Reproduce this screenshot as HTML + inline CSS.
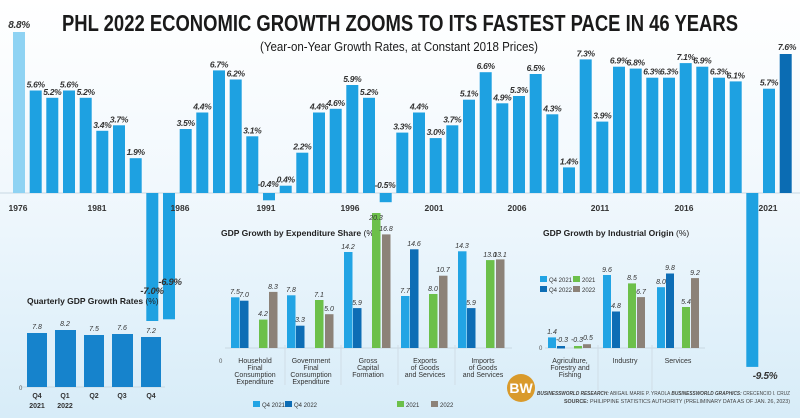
<!DOCTYPE html>
<html><head><meta charset="utf-8"><style>
html,body{margin:0;padding:0;width:800px;height:418px;overflow:hidden;}
svg{display:block;}
text{font-family:"Liberation Sans",sans-serif;}
.v{font-size:8.5px;font-weight:bold;font-style:italic;fill:#333;text-anchor:middle;letter-spacing:-0.3px;}
.yr{font-size:8.5px;font-weight:bold;fill:#333;text-anchor:middle;}
.s{font-size:7px;font-style:italic;fill:#333;text-anchor:middle;}
.c{font-size:7px;fill:#333;text-anchor:middle;}
.t{font-size:8.5px;font-weight:bold;fill:#222;}
</style></head><body>
<svg width="800" height="418" viewBox="0 0 800 418" xmlns="http://www.w3.org/2000/svg">
<defs>
<linearGradient id="bg" x1="0" y1="0" x2="0" y2="1"><stop offset="0" stop-color="#ffffff"/><stop offset="0.45" stop-color="#f1f8fd"/><stop offset="1" stop-color="#d7ecf8"/></linearGradient>
</defs>
<rect width="800" height="418" fill="url(#bg)"/>
<text x="400" y="31" text-anchor="middle" font-size="23" font-weight="bold" fill="#1a1a1a" textLength="676" lengthAdjust="spacingAndGlyphs">PHL 2022 ECONOMIC GROWTH ZOOMS TO ITS FASTEST PACE IN 46 YEARS</text>
<text x="399" y="51" text-anchor="middle" font-size="13" fill="#1a1a1a" textLength="278" lengthAdjust="spacingAndGlyphs">(Year-on-Year Growth Rates, at Constant 2018 Prices)</text>
<line x1="0" y1="193" x2="800" y2="193" stroke="#c8d8e2" stroke-width="1"/>
<g fill="#1ea1e1">
<rect x="13" y="32" width="12" height="161" fill="#8fd3f3"/>
<rect x="29.7" y="90.5" width="12" height="102.5"/>
<rect x="46.3" y="97.8" width="12" height="95.2"/>
<rect x="63" y="90.5" width="12" height="102.5"/>
<rect x="79.7" y="97.8" width="12" height="95.2"/>
<rect x="96.3" y="130.8" width="12" height="62.2"/>
<rect x="113" y="125.3" width="12" height="67.7"/>
<rect x="129.7" y="158.2" width="12" height="34.8"/>
<rect x="146.3" y="193" width="12" height="128"/>
<rect x="163" y="193" width="12" height="126.3"/>
<rect x="179.7" y="129" width="12" height="64"/>
<rect x="196.3" y="112.5" width="12" height="80.5"/>
<rect x="213" y="70.4" width="12" height="122.6"/>
<rect x="229.7" y="79.5" width="12" height="113.5"/>
<rect x="246.3" y="136.3" width="12" height="56.7"/>
<rect x="263" y="193" width="12" height="7.3"/>
<rect x="279.7" y="185.7" width="12" height="7.3"/>
<rect x="296.3" y="152.7" width="12" height="40.3"/>
<rect x="313" y="112.5" width="12" height="80.5"/>
<rect x="329.7" y="108.8" width="12" height="84.2"/>
<rect x="346.3" y="85" width="12" height="108"/>
<rect x="363" y="97.8" width="12" height="95.2"/>
<rect x="379.7" y="193" width="12" height="9.2"/>
<rect x="396.3" y="132.6" width="12" height="60.4"/>
<rect x="413" y="112.5" width="12" height="80.5"/>
<rect x="429.7" y="138.1" width="12" height="54.9"/>
<rect x="446.3" y="125.3" width="12" height="67.7"/>
<rect x="463" y="99.7" width="12" height="93.3"/>
<rect x="479.7" y="72.2" width="12" height="120.8"/>
<rect x="496.3" y="103.3" width="12" height="89.7"/>
<rect x="513" y="96" width="12" height="97"/>
<rect x="529.7" y="74" width="12" height="119"/>
<rect x="546.3" y="114.3" width="12" height="78.7"/>
<rect x="563" y="167.4" width="12" height="25.6"/>
<rect x="579.7" y="59.4" width="12" height="133.6"/>
<rect x="596.3" y="121.6" width="12" height="71.4"/>
<rect x="613" y="66.7" width="12" height="126.3"/>
<rect x="629.7" y="68.6" width="12" height="124.4"/>
<rect x="646.3" y="77.7" width="12" height="115.3"/>
<rect x="663" y="77.7" width="12" height="115.3"/>
<rect x="679.7" y="63.1" width="12" height="129.9"/>
<rect x="696.3" y="66.7" width="12" height="126.3"/>
<rect x="713" y="77.7" width="12" height="115.3"/>
<rect x="729.7" y="81.4" width="12" height="111.6"/>
<rect x="746.3" y="193" width="12" height="173.9"/>
<rect x="763" y="88.7" width="12" height="104.3"/>
<rect x="779.7" y="54" width="12" height="139" fill="#0b6cb3"/>
</g>
<g class="v">
<text x="19" y="28" font-size="10">8.8%</text>
<text x="35.7" y="87.5">5.6%</text><text x="52.3" y="94.8">5.2%</text><text x="69" y="87.5">5.6%</text><text x="85.7" y="94.8">5.2%</text>
<text x="102.3" y="127.8">3.4%</text><text x="119" y="122.3">3.7%</text><text x="135.7" y="155.2">1.9%</text>
<text x="152" y="294" font-size="9.5">-7.0%</text><text x="170" y="285" font-size="9.5">-6.9%</text>
<text x="185.7" y="126">3.5%</text><text x="202.3" y="109.5">4.4%</text><text x="219" y="67.4">6.7%</text><text x="235.7" y="76.5">6.2%</text><text x="252.3" y="133.3">3.1%</text>
<text x="268" y="187">-0.4%</text><text x="285.7" y="182.7">0.4%</text><text x="302.3" y="149.7">2.2%</text><text x="319" y="109.5">4.4%</text><text x="335.7" y="105.8">4.6%</text><text x="352.3" y="82">5.9%</text><text x="369" y="94.8">5.2%</text>
<text x="385" y="188">-0.5%</text><text x="402.3" y="129.6">3.3%</text><text x="419" y="109.5">4.4%</text><text x="435.7" y="135.1">3.0%</text><text x="452.3" y="122.3">3.7%</text><text x="469" y="96.7">5.1%</text><text x="485.7" y="69.2">6.6%</text><text x="502.3" y="100.3">4.9%</text><text x="519" y="93">5.3%</text><text x="535.7" y="71">6.5%</text><text x="552.3" y="111.3">4.3%</text><text x="569" y="164.4">1.4%</text>
<text x="585.7" y="56.4">7.3%</text><text x="602.3" y="118.6">3.9%</text><text x="619" y="63.7">6.9%</text><text x="635.7" y="65.6">6.8%</text><text x="652.3" y="74.7">6.3%</text><text x="669" y="74.7">6.3%</text><text x="685.7" y="60.1">7.1%</text><text x="702.3" y="63.7">6.9%</text><text x="719" y="74.7">6.3%</text><text x="735.7" y="78.4">6.1%</text>
<text x="765" y="379" font-size="10">-9.5%</text><text x="769" y="85.7">5.7%</text><text x="787" y="50">7.6%</text>
</g>
<g class="yr">
<text x="18" y="211">1976</text><text x="97" y="211">1981</text><text x="180" y="211">1986</text><text x="266" y="211">1991</text><text x="350" y="211">1996</text><text x="434" y="211">2001</text><text x="517" y="211">2006</text><text x="600" y="211">2011</text><text x="684" y="211">2016</text><text x="768" y="211">2021</text>
</g>

<text x="27" y="304" class="t">Quarterly GDP Growth Rates <tspan font-weight="normal">(%)</tspan></text>
<line x1="22" y1="387" x2="165" y2="387" stroke="#c8d8e2"/>
<text x="19" y="390" font-size="6" fill="#555">0</text>
<g fill="#1683cc">
<rect x="27" y="333" width="20" height="54"/><rect x="55" y="330" width="21" height="57"/><rect x="84" y="335" width="20" height="52"/><rect x="112" y="334" width="21" height="53"/><rect x="141" y="337" width="20" height="50"/>
</g>
<g class="s" font-size="8"><text x="37" y="329">7.8</text><text x="65" y="326">8.2</text><text x="94" y="331">7.5</text><text x="122" y="330">7.6</text><text x="151" y="333">7.2</text></g>
<g class="c" font-size="8" font-weight="bold"><text x="37" y="398">Q4</text><text x="37" y="408">2021</text><text x="65" y="398">Q1</text><text x="65" y="408">2022</text><text x="94" y="398">Q2</text><text x="122" y="398">Q3</text><text x="151" y="398">Q4</text></g>

<text x="221" y="236" class="t" font-size="8">GDP Growth by Expenditure Share <tspan font-weight="normal">(%)</tspan></text>
<line x1="225" y1="348" x2="512" y2="348" stroke="#c8d8e2"/>
<g stroke="#d0dde6"><line x1="285" y1="345" x2="285" y2="385"/><line x1="341" y1="345" x2="341" y2="385"/><line x1="398" y1="345" x2="398" y2="385"/><line x1="455" y1="345" x2="455" y2="385"/></g>
<text x="219" y="363" font-size="6" fill="#555">0</text>
<g>
<rect x="231" y="297.3" width="8.5" height="50.7" fill="#22a4e4"/><rect x="240" y="300.7" width="8.5" height="47.3" fill="#0d6db5"/><rect x="259" y="319.6" width="8.5" height="28.4" fill="#6cc04a"/><rect x="269" y="291.9" width="8.5" height="56.1" fill="#8c8278"/>
<rect x="287" y="295.3" width="8.5" height="52.7" fill="#22a4e4"/><rect x="296" y="325.7" width="8.5" height="22.3" fill="#0d6db5"/><rect x="315" y="300" width="8.5" height="48" fill="#6cc04a"/><rect x="325" y="314.2" width="8.5" height="33.8" fill="#8c8278"/>
<rect x="344" y="252" width="8.5" height="96" fill="#22a4e4"/><rect x="353" y="308.1" width="8.5" height="39.9" fill="#0d6db5"/><rect x="372" y="213" width="8.5" height="135" fill="#6cc04a"/><rect x="382" y="234.4" width="8.5" height="113.6" fill="#8c8278"/>
<rect x="401" y="296" width="8.5" height="52" fill="#22a4e4"/><rect x="410" y="249.3" width="8.5" height="98.7" fill="#0d6db5"/><rect x="429" y="294" width="8.5" height="54" fill="#6cc04a"/><rect x="439" y="275.7" width="8.5" height="72.3" fill="#8c8278"/>
<rect x="458" y="251.3" width="8.5" height="96.7" fill="#22a4e4"/><rect x="467" y="308.1" width="8.5" height="39.9" fill="#0d6db5"/><rect x="486" y="260.1" width="8.5" height="87.9" fill="#6cc04a"/><rect x="496" y="259.4" width="8.5" height="88.6" fill="#8c8278"/>
</g>
<g class="s">
<text x="235" y="294">7.5</text><text x="244" y="297">7.0</text><text x="263" y="316">4.2</text><text x="273" y="289">8.3</text>
<text x="291" y="292">7.8</text><text x="300" y="322">3.3</text><text x="319" y="297">7.1</text><text x="329" y="311">5.0</text>
<text x="348" y="249">14.2</text><text x="357" y="305">5.9</text><text x="376" y="220">20.3</text><text x="386" y="231">16.8</text>
<text x="405" y="293">7.7</text><text x="414" y="246">14.6</text><text x="433" y="291">8.0</text><text x="443" y="272">10.7</text>
<text x="462" y="248">14.3</text><text x="471" y="305">5.9</text><text x="490" y="257">13.0</text><text x="500" y="257">13.1</text>
</g>
<g class="c">
<text x="255" y="363">Household</text><text x="255" y="370">Final</text><text x="255" y="377">Consumption</text><text x="255" y="384">Expenditure</text>
<text x="311" y="363">Government</text><text x="311" y="370">Final</text><text x="311" y="377">Consumption</text><text x="311" y="384">Expenditure</text>
<text x="368" y="363">Gross</text><text x="368" y="370">Capital</text><text x="368" y="377">Formation</text>
<text x="425" y="363">Exports</text><text x="425" y="370">of Goods</text><text x="425" y="377">and Services</text>
<text x="483" y="363">Imports</text><text x="483" y="370">of Goods</text><text x="483" y="377">and Services</text>
</g>
<g font-size="6" fill="#333">
<rect x="253" y="401" width="7" height="6" fill="#22a4e4"/><text x="262" y="407">Q4 2021</text>
<rect x="285" y="401" width="7" height="6" fill="#0d6db5"/><text x="294" y="407">Q4 2022</text>
<rect x="397" y="401" width="7" height="6" fill="#6cc04a"/><text x="406" y="407">2021</text>
<rect x="431" y="401" width="7" height="6" fill="#8c8278"/><text x="440" y="407">2022</text>
</g>

<text x="543" y="236" class="t" font-size="8">GDP Growth by Industrial Origin <tspan font-weight="normal">(%)</tspan></text>
<line x1="545" y1="348" x2="705" y2="348" stroke="#c8d8e2"/>
<g stroke="#d0dde6"><line x1="598" y1="345" x2="598" y2="390"/><line x1="652" y1="345" x2="652" y2="390"/></g>
<text x="539" y="350" font-size="6" fill="#555">0</text>
<g>
<rect x="548" y="337.4" width="8" height="10.6" fill="#22a4e4"/><rect x="557" y="346" width="8" height="2.5" fill="#0d6db5"/><rect x="574" y="346" width="8" height="2.5" fill="#6cc04a"/><rect x="583" y="344.2" width="8" height="3.8" fill="#8c8278"/>
<rect x="603" y="275" width="8" height="73" fill="#22a4e4"/><rect x="612" y="311.5" width="8" height="36.5" fill="#0d6db5"/><rect x="628" y="283.4" width="8" height="64.6" fill="#6cc04a"/><rect x="637" y="297.1" width="8" height="50.9" fill="#8c8278"/>
<rect x="657" y="287.2" width="8" height="60.8" fill="#22a4e4"/><rect x="666" y="273.5" width="8" height="74.5" fill="#0d6db5"/><rect x="682" y="307" width="8" height="41" fill="#6cc04a"/><rect x="691" y="278.1" width="8" height="69.9" fill="#8c8278"/>
</g>
<g class="s">
<text x="552" y="334">1.4</text><text x="562" y="342">-0.3</text><text x="577" y="342">-0.3</text><text x="588" y="340">0.5</text>
<text x="607" y="272">9.6</text><text x="616" y="308">4.8</text><text x="632" y="280">8.5</text><text x="641" y="294">6.7</text>
<text x="661" y="284">8.0</text><text x="670" y="270">9.8</text><text x="686" y="304">5.4</text><text x="695" y="275">9.2</text>
</g>
<g class="c">
<text x="570" y="363">Agriculture,</text><text x="570" y="370">Forestry and</text><text x="570" y="377">Fishing</text>
<text x="625" y="363">Industry</text><text x="678" y="363">Services</text>
</g>
<g font-size="6" fill="#333">
<rect x="540" y="276" width="7" height="6" fill="#22a4e4"/><text x="549" y="282">Q4 2021</text>
<rect x="540" y="286" width="7" height="6" fill="#0d6db5"/><text x="549" y="292">Q4 2022</text>
<rect x="573" y="276" width="7" height="6" fill="#6cc04a"/><text x="582" y="282">2021</text>
<rect x="573" y="286" width="7" height="6" fill="#8c8278"/><text x="582" y="292">2022</text>
</g>

<circle cx="521" cy="388" r="14" fill="#d99a2b"/>
<text x="521" y="393" text-anchor="middle" font-family="Liberation Serif,serif" font-size="14" font-weight="bold" fill="#fff">BW</text>
<text x="537" y="395" font-size="5.8" fill="#444" textLength="253" lengthAdjust="spacingAndGlyphs"><tspan font-weight="bold" font-style="italic">BUSINESSWORLD RESEARCH:</tspan> ABIGAIL MARIE P. YRAOLA <tspan font-weight="bold" font-style="italic">BUSINESSWORLD GRAPHICS:</tspan> CRECENCIO I. CRUZ</text>
<text x="790" y="403" text-anchor="end" font-size="5.8" fill="#444" textLength="226" lengthAdjust="spacingAndGlyphs"><tspan font-weight="bold">SOURCE:</tspan> PHILIPPINE STATISTICS AUTHORITY (PRELIMINARY DATA AS OF JAN. 26, 2023)</text>
</svg>
</body></html>
